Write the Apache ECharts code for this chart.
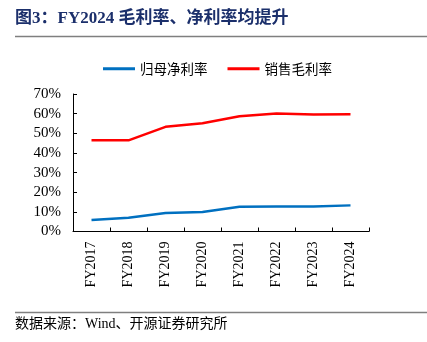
<!DOCTYPE html>
<html><head><meta charset="utf-8">
<script src="https://cdn.jsdelivr.net/npm/echarts@6/dist/echarts.min.js"></script>
<style>html,body{margin:0;padding:0;background:#fff}#c{width:427px;height:342px}</style>
</head><body><div id="c"></div>
<script>
var categories = ['FY2017','FY2018','FY2019','FY2020','FY2021','FY2022','FY2023','FY2024'];
var netMargin = [5.9, 7.0, 9.4, 9.9, 12.6, 12.7, 12.7, 13.3];
var grossMargin = [46.5, 46.4, 53.3, 55.1, 58.7, 60.1, 59.6, 59.7];
var seriesNames = ['归母净利率', '销售毛利率'];
var titleText = '图3：FY2024 毛利率、净利率均提升';
var sourceText = '数据来源：Wind、开源证券研究所';

var serif = '"Liberation Serif", "Noto Sans CJK SC", serif';
var chart = echarts.init(document.getElementById('c'), null, {renderer:'canvas'});
chart.setOption({
  animation: false,
  backgroundColor: '#fff',
  graphic: [
    {type:'text', left:15, top:10, style:{text:titleText, font:'bold 17px ' + serif, fill:'#1B2F6B'}},
    {type:'line', shape:{x1:15, y1:36.5, x2:427, y2:36.5}, style:{stroke:'#7F7F7F', lineWidth:1.5}},
    {type:'line', shape:{x1:15, y1:312.5, x2:427, y2:312.5}, style:{stroke:'#7F7F7F', lineWidth:1.5}},
    {type:'text', left:15, top:317, style:{text:sourceText, font:'14px ' + serif, fill:'#000'}}
  ],
  legend: {
    top: 57, left: 98,
    itemWidth: 32, itemHeight: 3, itemGap: 20,
    icon: 'rect',
    textStyle: {fontFamily: '"Noto Sans CJK SC"', fontSize: 13.5, color:'#000'},
    data: seriesNames
  },
  grid: {left:73, right:58, top:94, bottom:110.5, containLabel:false},
  xAxis: {
    type:'category', data: categories, boundaryGap: true,
    axisLine:{lineStyle:{color:'#000', width:1}},
    axisTick:{show:true, inside:true, length:4, lineStyle:{color:'#000'}},
    axisLabel:{rotate:90, margin:10, fontFamily:serif, fontSize:14, color:'#000'}
  },
  yAxis: {
    type:'value', min:0, max:70, interval:10,
    axisLine:{show:true, lineStyle:{color:'#000', width:1}},
    axisTick:{show:true, inside:true, length:4, lineStyle:{color:'#000'}},
    splitLine:{show:false},
    axisLabel:{formatter:'{value}%', margin:12, fontFamily:serif, fontSize:15, color:'#000'}
  },
  series: [
    {name:seriesNames[0], type:'line', data:netMargin, symbol:'none', lineStyle:{color:'#0070C0', width:2.5}, itemStyle:{color:'#0070C0'}},
    {name:seriesNames[1], type:'line', data:grossMargin, symbol:'none', lineStyle:{color:'#FF0000', width:2.5}, itemStyle:{color:'#FF0000'}}
  ]
});
</script></body></html>
